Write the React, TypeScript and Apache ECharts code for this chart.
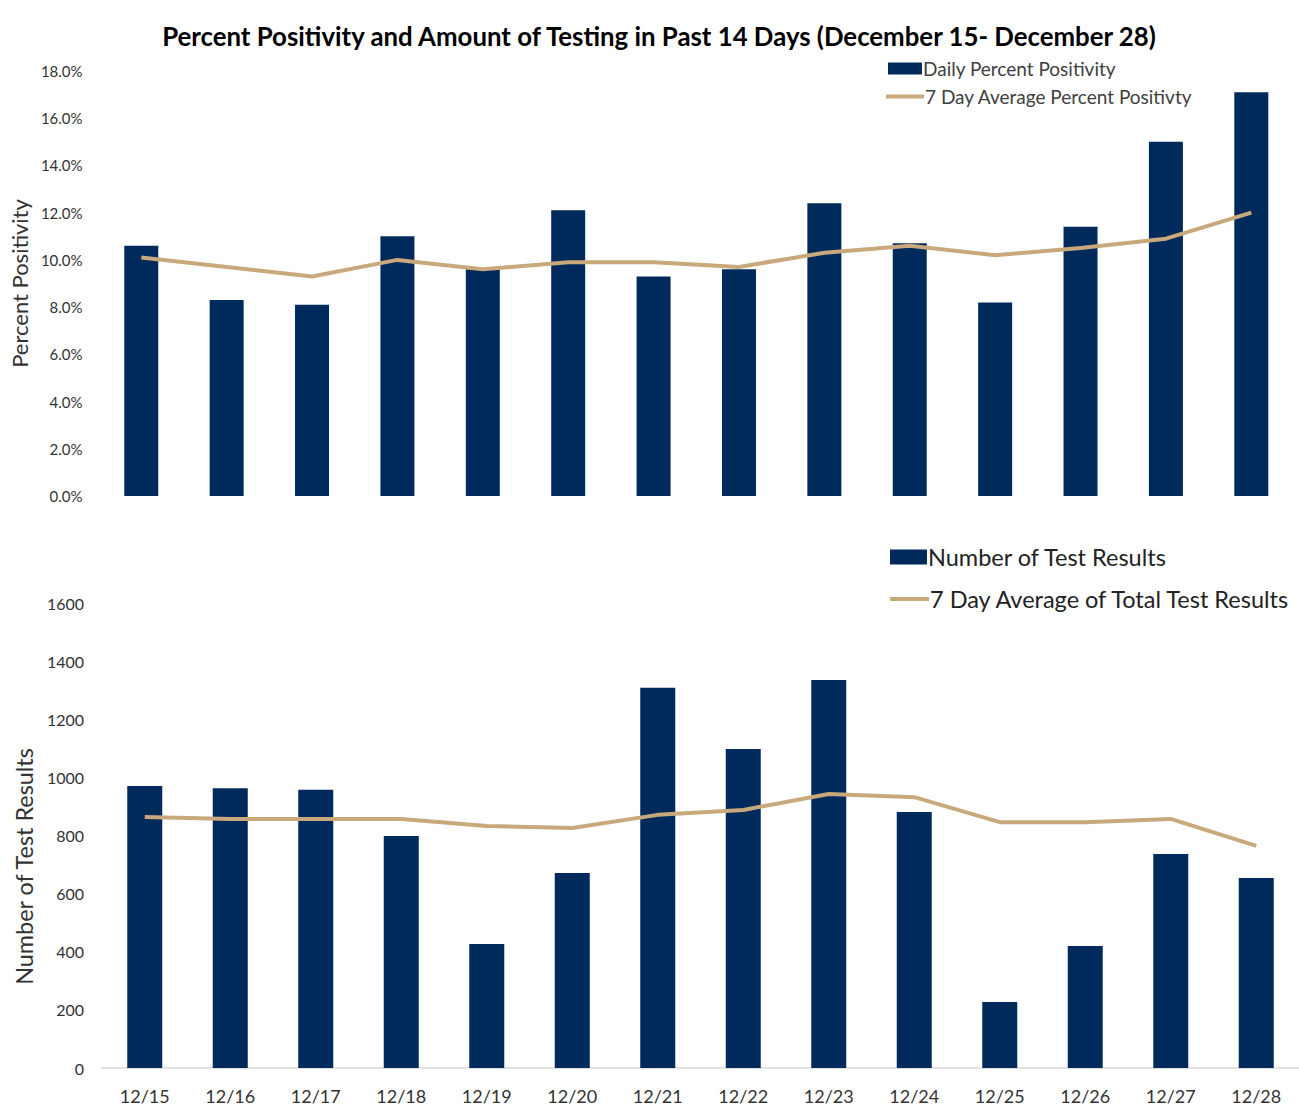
import React, { useEffect, useRef } from "react";
import * as echarts from "echarts";

const categories = ["12/15", "12/16", "12/17", "12/18", "12/19", "12/20", "12/21", "12/22", "12/23", "12/24", "12/25", "12/26", "12/27", "12/28"];
const dailyPositivity = [10.6, 8.3, 8.1, 11.0, 9.6, 12.1, 9.3, 9.6, 12.4, 10.7, 8.2, 11.4, 15.0, 17.1];
const avgPositivity = [10.1, 9.7, 9.3, 10.0, 9.6, 9.9, 9.9, 9.7, 10.3, 10.6, 10.2, 10.5, 10.9, 12.0];
const testResults = [970, 963, 957, 798, 427, 671, 1308, 1098, 1335, 881, 227, 420, 736, 654];
const avgTestResults = [864, 857, 857, 857, 833, 826, 871, 888, 943, 932, 846, 846, 857, 764];

const NAVY = "#002A5C";
const TAN = "#C9A97C";
const FONT = "Lato, 'Noto Sans', sans-serif";

function legendRow(name: string, left: number, top: number, w: number, h: number, fontSize: number, color: string, icon: string) {
  return {
    orient: "horizontal",
    left,
    top,
    itemWidth: w,
    itemHeight: h,
    icon,
    textStyle: { fontFamily: FONT, fontSize, color, padding: [0, 0, 0, -4] },
    data: [name],
  };
}

export default function App() {
  const ref = useRef<HTMLDivElement>(null);
  useEffect(() => {
    document.body.style.margin = "0";
    const chart = echarts.init(ref.current!, null, { renderer: "svg" });
    chart.setOption({
      animation: false,
      backgroundColor: "#ffffff",
      textStyle: { fontFamily: FONT },
      title: {
        text: "Percent Positivity and Amount of Testing in Past 14 Days (December 15- December 28)",
        left: 654,
        textAlign: "center",
        top: 18,
        textStyle: { fontFamily: FONT, fontSize: 25.8, fontWeight: "bold", color: "#000000" },
      },
      legend: [
        legendRow("Daily Percent Positivity", 883, 54, 34, 12, 19, "#404040", "rect"),
        legendRow("7 Day Average Percent Positivty", 881, 82, 38, 4, 19, "#404040", "rect"),
        legendRow("Number of Test Results", 885, 540, 37, 15, 23.5, "#222222", "rect"),
        legendRow("7 Day Average of Total Test Results", 885, 582, 39, 4, 23.5, "#222222", "rect"),
      ],
      grid: [
        { left: 96, width: 1198, top: 71, height: 425 },
        { left: 102, width: 1197, top: 603, height: 465 },
      ],
      xAxis: [
        {
          type: "category",
          gridIndex: 0,
          data: categories,
          axisLine: { show: false },
          axisTick: { show: false },
          axisLabel: { show: false },
        },
        {
          type: "category",
          gridIndex: 1,
          data: categories,
          axisLine: { show: true, lineStyle: { color: "#D9D9D9", width: 1.5 } },
          axisTick: { show: false },
          axisLabel: { fontFamily: FONT, fontSize: 18, color: "#333333", margin: 19 },
        },
      ],
      yAxis: [
        {
          type: "value",
          gridIndex: 0,
          min: 0,
          max: 18,
          interval: 2,
          name: "Percent Positivity",
          nameLocation: "middle",
          nameGap: 55,
          nameTextStyle: { fontFamily: FONT, fontSize: 22, color: "#333333" },
          axisLine: { show: false },
          axisTick: { show: false },
          splitLine: { show: false },
          axisLabel: {
            fontFamily: FONT,
            fontSize: 15,
            color: "#333333",
            margin: 16,
            formatter: (v: number) => v.toFixed(1) + "%",
          },
        },
        {
          type: "value",
          gridIndex: 1,
          min: 0,
          max: 1600,
          interval: 200,
          name: "Number of Test Results",
          nameLocation: "middle",
          nameGap: 60,
          nameTextStyle: { fontFamily: FONT, fontSize: 23.4, color: "#333333", padding: [0, 62, 0, 0] },
          axisLine: { show: false },
          axisTick: { show: false },
          splitLine: { show: false },
          axisLabel: {
            fontFamily: FONT,
            fontSize: 16,
            color: "#333333",
            margin: 18,
            formatter: (v: number) => String(v),
          },
        },
      ],
      series: [
        {
          name: "Daily Percent Positivity",
          type: "bar",
          xAxisIndex: 0,
          yAxisIndex: 0,
          data: dailyPositivity,
          barWidth: 34,
          itemStyle: { color: NAVY },
        },
        {
          name: "7 Day Average Percent Positivty",
          type: "line",
          xAxisIndex: 0,
          yAxisIndex: 0,
          data: avgPositivity,
          symbol: "none",
          lineStyle: { color: TAN, width: 4 },
          itemStyle: { color: TAN },
        },
        {
          name: "Number of Test Results",
          type: "bar",
          xAxisIndex: 1,
          yAxisIndex: 1,
          data: testResults,
          barWidth: 35,
          itemStyle: { color: NAVY },
        },
        {
          name: "7 Day Average of Total Test Results",
          type: "line",
          xAxisIndex: 1,
          yAxisIndex: 1,
          data: avgTestResults,
          symbol: "none",
          lineStyle: { color: TAN, width: 4 },
          itemStyle: { color: TAN },
        },
      ],
    });
    return () => chart.dispose();
  }, []);
  return <div ref={ref} style={{ width: 1299, height: 1107 }} />;
}
